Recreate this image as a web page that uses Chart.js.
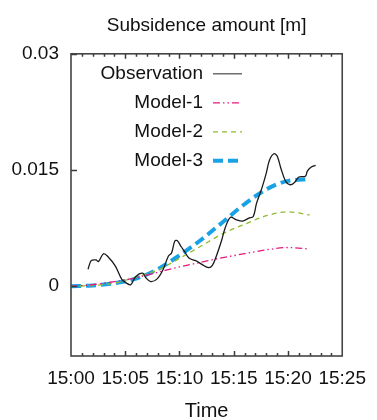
<!DOCTYPE html>
<html><head><meta charset="utf-8">
<script src="https://cdn.jsdelivr.net/npm/chart.js@4.4.1/dist/chart.umd.min.js"></script>
<style>html,body{margin:0;padding:0;background:#fff}</style>
</head><body>
<canvas id="c" width="377" height="420"></canvas>
<script>
// ---- data (minutes after 15:00, subsidence in m) ----
const obsTime = [1.57,1.86,2.3,2.53,2.99,3.35,4.09,4.68,5.12,5.5,6.0,6.6,6.9,7.35,7.94,8.47,8.98,9.27,9.56,9.78,10.16,10.46,10.9,11.5,12.1,12.68,13.03,13.4,13.9,14.2,14.7,15.2,15.8,16.4,16.8,17.1,17.6,18.0,18.3,18.7,19.0,19.35,19.8,20.2,20.6,21.0,21.6,21.8,22.15,22.55];
const obsValue = [0.0022,0.0033,0.0034,0.0032,0.0042,0.0039,0.0026,0.0009,0.0004,0.0002,0.0013,0.0017,0.0011,0.0006,0.00095,0.0021,0.0039,0.0043,0.0058,0.0059,0.0051,0.0045,0.0036,0.0033,0.0028,0.0024,0.0027,0.0039,0.0060,0.0075,0.0089,0.0086,0.0084,0.0088,0.0090,0.0107,0.0127,0.0146,0.0163,0.0171,0.0168,0.0152,0.0135,0.0131,0.0134,0.0141,0.0142,0.0149,0.0154,0.0156];
const modelTime = [0,2,4,6,8,10,12,14,16,18,20,22];
const model1 = [0,0.0002,0.0006,0.0011,0.0018,0.0025,0.0031,0.0037,0.0042,0.0047,0.0050,0.0048];
const model2 = [0,0.0001,0.0004,0.0012,0.0021,0.0036,0.0052,0.0068,0.0080,0.0091,0.0096,0.0092];
const model3 = [0,0.0001,0.0004,0.0010,0.0022,0.0040,0.0060,0.0083,0.0106,0.0125,0.0136,0.0138];
const seriesNames = ['Observation','Model-1','Model-2','Model-3'];
const xTickMinutes = [0,5,10,15,20,25];
const yTicks = [0,0.015,0.03];
const chartTitle = 'Subsidence amount [m]';
const xTitle = 'Time';

const pts = (xs, ys) => xs.map((x, i) => ({x, y: ys[i]}));
const FONT = "'Liberation Sans', Arial, sans-serif";

const frame = {
  id: 'frame',
  afterDatasetsDraw(chart) {
    const {ctx, chartArea: a, scales: {x, y}} = chart;
    ctx.save();
    ctx.strokeStyle = '#3a3a3a';
    ctx.lineWidth = 1.5;
    ctx.setLineDash([]);
    ctx.beginPath();
    for (let m = 0; m <= 25; m++) {
      if (m === 0 || m === 25) continue;
      const px = Math.round(x.getPixelForValue(m)) + 0.5;
      const len = (m % 5 === 0) ? 5 : 3;
      ctx.moveTo(px, a.bottom); ctx.lineTo(px, a.bottom - len);
      ctx.moveTo(px, a.top); ctx.lineTo(px, a.top + len);
    }
    yTicks.forEach(v => {
      const py = Math.round(y.getPixelForValue(v)) + 0.5;
      ctx.moveTo(a.left, py); ctx.lineTo(a.left + 6, py);
    });
    ctx.stroke();
    ctx.strokeStyle = '#444';
    ctx.lineWidth = 1.6;
    ctx.strokeRect(a.left, a.top, a.right - a.left, a.bottom - a.top);
    // legend (gnuplot style: text right-aligned, sample to its right)
    ctx.font = '19px ' + FONT;
    ctx.fillStyle = '#111';
    ctx.textAlign = 'right';
    ctx.textBaseline = 'middle';
    chart.data.datasets.forEach((ds, i) => {
      const ly = a.top + 20 + i * 29;
      ctx.fillText(ds.label, a.left + 132, ly);
      ctx.strokeStyle = i === 0 ? '#555' : ds.borderColor;
      ctx.lineWidth = ds.borderWidth;
      ctx.setLineDash(ds.borderDash || []);
      ctx.beginPath();
      ctx.moveTo(a.left + 142, ly); ctx.lineTo(a.left + 171, ly);
      ctx.stroke();
    });
    ctx.restore();
  }
};

new Chart(document.getElementById('c'), {
  type: 'line',
  data: {
    datasets: [
      {label: seriesNames[0], data: pts(obsTime, obsValue), borderColor: '#1a1a1a', borderWidth: 1.3, pointRadius: 0, tension: 0.35, fill: false},
      {label: seriesNames[1], data: pts(modelTime, model1), borderColor: '#e6197e', borderWidth: 1.3, borderDash: [7,3,1.5,3,1.5,3], pointRadius: 0, cubicInterpolationMode: 'monotone', fill: false},
      {label: seriesNames[2], data: pts(modelTime, model2), borderColor: '#8fbb2c', borderWidth: 1.3, borderDash: [5,4], pointRadius: 0, cubicInterpolationMode: 'monotone', fill: false},
      {label: seriesNames[3], data: pts(modelTime, model3), borderColor: '#1aa2e6', borderWidth: 4, borderDash: [10,5], pointRadius: 0, cubicInterpolationMode: 'monotone', fill: false}
    ]
  },
  options: {
    responsive: false,
    animation: false,
    layout: {padding: {left: 0, right: 25, top: 0, bottom: 0}},
    plugins: {
      legend: {display: false},
      tooltip: {enabled: false},
      title: {display: true, text: chartTitle, fullSize: false, color: '#111',
        font: {family: FONT, size: 19, weight: 'normal'}, padding: {top: 14, bottom: 17}}
    },
    scales: {
      x: {
        type: 'linear', min: 0, max: 25,
        afterBuildTicks: s => { s.ticks = xTickMinutes.map(v => ({value: v})); },
        afterFit: s => { s.height = 64; },
        grid: {display: false, drawTicks: false},
        border: {display: false},
        ticks: {color: '#111', font: {family: FONT, size: 19}, padding: 11, maxRotation: 0, autoSkip: false,
          callback: v => '15:' + String(v).padStart(2, '0')},
        title: {display: true, text: xTitle, color: '#111', font: {family: FONT, size: 20, lineHeight: 1}, padding: {top: 0, bottom: -1}}
      },
      y: {
        type: 'linear', min: -0.009, max: 0.03,
        afterBuildTicks: s => { s.ticks = yTicks.map(v => ({value: v})); },
        afterFit: s => { s.width = 71; },
        grid: {display: false, drawTicks: false},
        border: {display: false},
        ticks: {color: '#111', font: {family: FONT, size: 19}, padding: 12,
          callback: v => String(v)}
      }
    }
  },
  plugins: [frame]
});
</script>
</body></html>
